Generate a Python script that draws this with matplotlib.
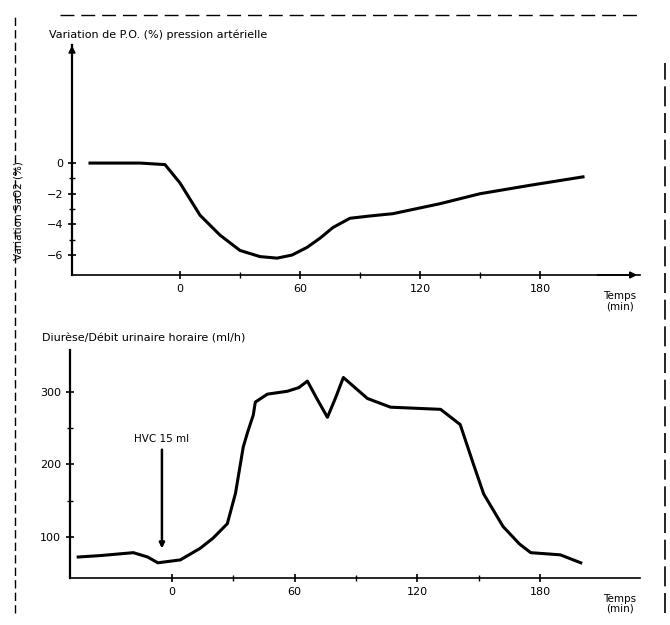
import numpy as np
import matplotlib
matplotlib.use("Agg")
import matplotlib.pyplot as plt
from matplotlib.lines import Line2D

# top panel : variation (%) vs temps (min)
t_top = [-45, -20, -7.5, 0, 10, 20, 30, 40, 48.5, 56, 63.5, 70, 76.5, 85, 95, 106.5, 130, 150, 175, 201.5]
v_top = [0, 0, -0.1, -1.3, -3.4, -4.7, -5.7, -6.1, -6.2, -6.0, -5.5, -4.9, -4.2, -3.6, -3.45, -3.3, -2.65, -2.0, -1.45, -0.9]

# bottom panel : debit (ml/h) vs temps (min)
t_bot = [-46, -35, -19, -12, -7, 4, 13.7, 20, 27, 31, 34.8, 37, 39.7, 40.7, 46.6, 56.4, 62, 66.2, 71, 76, 80, 83.8,
         95.6, 106.9, 131.4, 141, 147.5, 152.5, 162, 170, 175.5, 190, 200]
v_bot = [72, 74, 78, 72, 64, 68, 84, 98, 118, 160, 224, 245, 268, 286, 297, 301, 306, 315, 290, 265, 292, 320,
         291, 279, 276, 255, 200, 159, 114, 90, 78, 75, 64]

top_ticks = [0, -2, -4, -6]
bot_ticks = [100, 200, 300]
x_ticks = [0, 60, 120, 180]

fig = plt.figure(figsize=(6.7, 6.25), dpi=100)
W, H = 670, 625


def style(ax):
    for s in ["top", "right"]:
        ax.spines[s].set_visible(False)
    ax.spines["left"].set_linewidth(1.6)
    ax.spines["bottom"].set_linewidth(1.2)
    ax.tick_params(direction="inout", length=6, width=1.2, labelsize=8)
    ax.tick_params(which="minor", direction="inout", length=4, width=1)


ax1 = fig.add_axes([72 / W, 1 - 275 / H, (640 - 72) / W, (275 - 45) / H])
ax1.plot(t_top, v_top, color="black", lw=2.2)
ax1.set_xlim(-54, 230)
ax1.set_ylim(-7.3, 7.7)
ax1.set_yticks(top_ticks)
ax1.set_yticks([-1, -3, -5], minor=True)
ax1.set_xticks(x_ticks)
ax1.set_xticks([30, 90, 150], minor=True)
style(ax1)
ax1.text(-0.04, 1.02, "Variation de P.O. (%) pression artérielle", transform=ax1.transAxes,
         fontsize=8, ha="left", va="bottom")
ax1.set_ylabel("Variation SaO2 (%)", fontsize=7.5)
ax1.yaxis.set_label_coords(-0.085, 0.28)
ax1.text(0.965, -0.07, "Temps\n(min)", transform=ax1.transAxes, fontsize=7.5,
         ha="center", va="top", linespacing=1.0)
ax1.annotate("", xy=(0.0, 1.01), xytext=(0.0, 0.9), xycoords="axes fraction",
             arrowprops=dict(arrowstyle="-|>", color="black", lw=1.2))
ax1.annotate("", xy=(1.0, 0.0), xytext=(0.92, 0.0), xycoords="axes fraction",
             arrowprops=dict(arrowstyle="-|>", color="black", lw=1.2))

ax2 = fig.add_axes([70 / W, 1 - 578 / H, (640 - 70) / W, (578 - 350) / H])
ax2.plot(t_bot, v_bot, color="black", lw=2.2)
ax2.set_xlim(-50, 229)
ax2.set_ylim(43, 358)
ax2.set_yticks(bot_ticks)
ax2.set_yticks([150, 250], minor=True)
ax2.set_xticks(x_ticks)
ax2.set_xticks([30, 90, 150], minor=True)
style(ax2)
ax2.text(-0.05, 1.03, "Diurèse/Débit urinaire horaire (ml/h)", transform=ax2.transAxes,
         fontsize=8, ha="left", va="bottom")
ax2.text(0.965, -0.07, "Temps\n(min)", transform=ax2.transAxes, fontsize=7.5,
         ha="center", va="top", linespacing=1.0)
ax2.annotate("HVC 15 ml", xy=(-5, 80), xytext=(-5, 228), fontsize=7.5, ha="center", va="bottom",
             arrowprops=dict(arrowstyle="-|>", color="black", lw=1.8))

# scan border
fig.add_artist(Line2D([15 / W, 15 / W], [0.02, 0.98], color="black", lw=1.0, ls=(0, (6, 3))))
fig.add_artist(Line2D([0.09, 0.96], [1 - 15 / H, 1 - 15 / H], color="black", lw=1.0, ls=(0, (10, 5))))
fig.add_artist(Line2D([665 / W, 665 / W], [0.02, 0.9], color="black", lw=1.2, ls=(0, (12, 4))))

fig.savefig("out.png", dpi=100)
